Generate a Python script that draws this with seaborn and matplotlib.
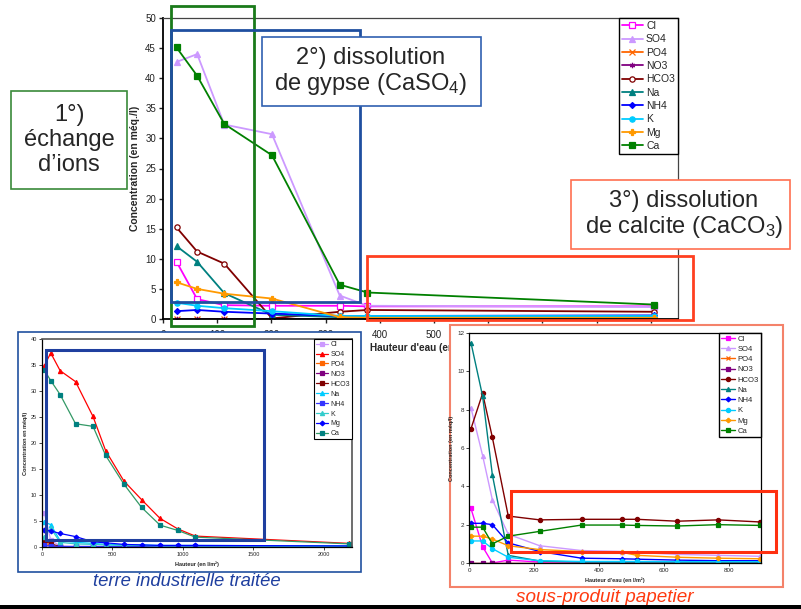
import pandas as pd
import matplotlib
matplotlib.use("Agg")
import matplotlib.pyplot as plt
from matplotlib.patches import Rectangle
import seaborn as sns

W, H = 801, 609

IONS = ["Cl", "SO4", "PO4", "NO3", "HCO3", "Na", "NH4", "K", "Mg", "Ca"]

# graphique principal
main_x = [25, 63, 113, 201, 326, 377, 906]
main_cl = [9.5, 3.3, 2.3, 2.2, 2.2, 2.1, 2.1]
main_so4 = [42.7, 44.0, 32.3, 30.7, 3.9, 2.2, 2.0]
main_po4 = [0.0, 0.0, 0.0, 0.0, 0.0, 0.0, 0.0]
main_no3 = [0.0, 0.0, 0.0, 0.0, 0.0, 0.0, 0.0]
main_hco3 = [15.2, 11.2, 9.2, 0.1, 1.2, 1.5, 1.2]
main_na = [12.1, 9.5, 4.3, 0.7, 0.3, 0.3, 0.3]
main_nh4 = [1.3, 1.5, 1.2, 0.9, 0.5, 0.5, 0.6]
main_k = [2.7, 2.2, 1.8, 1.3, 0.5, 0.5, 0.5]
main_mg = [6.1, 5.0, 4.2, 3.4, 0.3, 0.2, 0.2]
main_ca = [45.1, 40.4, 32.4, 27.2, 5.7, 4.4, 2.4]

# terre industrielle traitée
terre_x = [17, 62, 129, 238, 362, 452, 581, 707, 838, 962, 1088, 2180]
terre_cl = [6.6, 1.3, 0.2, 0.1, 0.1, 0.1, 0.1, 0.1, 0.1, 0.1, 0.1, 0.1]
terre_so4 = [34.9, 37.3, 33.9, 31.8, 25.1, 18.5, 12.7, 9.1, 5.5, 3.5, 2.1, 0.7]
terre_po4 = [0.9, 0.2, 0.0, 0.0, 0.0, 0.0, 0.0, 0.0, 0.0, 0.0, 0.0, 0.0]
terre_no3 = [0.0, 0.0, 0.0, 0.0, 0.0, 0.0, 0.0, 0.0, 0.0, 0.0, 0.0, 0.0]
terre_hco3 = [1.2, 0.6, 0.1, 0.0, 0.0, 0.0, 0.0, 0.0, 0.0, 0.0, 0.0, 0.0]
terre_na = [4.8, 4.3, 1.2, 0.9, 0.7, 0.5, 0.4, 0.4, 0.3, 0.3, 0.3, 0.2]
terre_nh4 = [0.3, 0.2, 0.1, 0.1, 0.1, 0.1, 0.1, 0.1, 0.1, 0.1, 0.1, 0.1]
terre_k = [2.0, 3.6, 0.9, 0.6, 0.5, 0.4, 0.3, 0.3, 0.2, 0.2, 0.2, 0.1]
terre_mg = [3.3, 3.1, 2.6, 2.0, 1.0, 0.8, 0.5, 0.4, 0.3, 0.3, 0.3, 0.2]
terre_ca = [34.0, 32.0, 29.3, 23.7, 23.2, 17.6, 12.1, 7.6, 4.2, 3.2, 1.9, 0.6]

# sous-produit papetier
papet_x = [6, 42, 72, 121, 218, 347, 473, 518, 642, 768, 898]
papet_cl = [2.85, 0.85, 0.0, 0.15, 0.05, 0.05, 0.05, 0.05, 0.05, 0.05, 0.05]
papet_so4 = [8.1, 5.6, 3.3, 1.5, 0.9, 0.65, 0.6, 0.55, 0.45, 0.4, 0.35]
papet_po4 = [0.0, 0.0, 0.0, 0.0, 0.0, 0.0, 0.0, 0.0, 0.0, 0.0, 0.0]
papet_no3 = [0.0, 0.0, 0.0, 0.0, 0.0, 0.0, 0.0, 0.0, 0.0, 0.0, 0.0]
papet_hco3 = [7.0, 8.85, 6.55, 2.45, 2.25, 2.28, 2.28, 2.28, 2.18, 2.25, 2.14]
papet_na = [11.5, 8.7, 4.6, 0.4, 0.1, 0.05, 0.05, 0.05, 0.05, 0.05, 0.05]
papet_nh4 = [2.07, 2.07, 2.0, 1.05, 0.6, 0.25, 0.22, 0.2, 0.15, 0.12, 0.12]
papet_k = [1.15, 1.15, 0.75, 0.3, 0.12, 0.08, 0.08, 0.08, 0.07, 0.07, 0.07]
papet_mg = [1.4, 1.4, 1.25, 0.9, 0.7, 0.6, 0.55, 0.4, 0.3, 0.25, 0.22]
papet_ca = [1.87, 1.87, 1.0, 1.4, 1.65, 1.98, 1.98, 1.96, 1.93, 2.0, 1.96]

ASTER = (6, 2, 0)

# couleur, marqueur, remplissage
main_styles = {
    "Cl": ("#FF00FF", "s", "white"), "SO4": ("#CC99FF", "^", None),
    "PO4": ("#FF6600", "x", None), "NO3": ("#800080", ASTER, None),
    "HCO3": ("#800000", "o", "white"), "Na": ("#008080", "^", None),
    "NH4": ("#0000FF", "D", None), "K": ("#00CCFF", "o", None),
    "Mg": ("#FF9900", "P", None), "Ca": ("#008000", "s", None),
}
terre_styles = {
    "Cl": ("#CC99FF", "s", None), "SO4": ("#FF0000", "^", None),
    "PO4": ("#FF6600", "s", None), "NO3": ("#800080", "s", None),
    "HCO3": ("#800000", "s", None), "Na": ("#00CCFF", "^", None),
    "NH4": ("#3333FF", "s", None), "K": ("#33CCCC", "^", None),
    "Mg": ("#0000FF", "D", None), "Ca": ("#339966", "s", None),
}
papet_styles = {
    "Cl": ("#FF00FF", "s", None), "SO4": ("#CC99FF", "^", None),
    "PO4": ("#FF6600", "x", None), "NO3": ("#800080", "s", None),
    "HCO3": ("#800000", "o", None), "Na": ("#008080", "^", None),
    "NH4": ("#0000FF", "D", None), "K": ("#00CCFF", "o", None),
    "Mg": ("#FF9900", "P", None), "Ca": ("#008000", "s", None),
}


def frac(x0, y0, x1, y1):
    return [x0 / W, 1 - y1 / H, (x1 - x0) / W, (y1 - y0) / H]


def fig_rect(fig, x0, y0, x1, y1, ec, lw, z, fc="none"):
    fig.add_artist(Rectangle((x0 / W, 1 - y1 / H), (x1 - x0) / W, (y1 - y0) / H,
                             transform=fig.transFigure, facecolor=fc,
                             edgecolor=ec, linewidth=lw, zorder=z))


def draw_panel(ax, xs, series, styles, lw, ms, mk_edge=None):
    df = pd.DataFrame({"x": xs * len(IONS),
                       "val": [v for s in series for v in s],
                       "ion": [ion for ion in IONS for _ in xs]})
    for ion in IONS:
        col, mk, mfc = styles[ion]
        mec = col
        if ion == "Ca" and mk_edge is not None:
            mec = mk_edge
        size = ms * 0.8 if mk == "D" else ms
        sns.lineplot(data=df[df["ion"] == ion], x="x", y="val", ax=ax,
                     color=col, linewidth=lw, marker=mk, markersize=size,
                     markerfacecolor=mfc if mfc else mec,
                     markeredgecolor=mec, markeredgewidth=0.9,
                     label=ion, legend=False)


sns.set_theme(style="white")
plt.rcParams["font.family"] = ["Liberation Sans", "DejaVu Sans"]
plt.rcParams["mathtext.fontset"] = "custom"
plt.rcParams["mathtext.rm"] = "Liberation Sans"
plt.rcParams["mathtext.it"] = "Liberation Sans:italic"

fig = plt.figure(figsize=(8.01, 6.09), dpi=100)

# ---- graphique principal
ax = fig.add_axes(frac(163, 18, 678, 319))
ax.set_zorder(0)
draw_panel(ax, main_x,
           [main_cl, main_so4, main_po4, main_no3, main_hco3, main_na,
            main_nh4, main_k, main_mg, main_ca],
           main_styles, 1.3, 3.8)
ax.set_xlim(0, 950)
ax.set_ylim(0, 50)
ax.set_xticks(range(0, 1000, 100))
ax.set_yticks(range(0, 55, 5))
ax.tick_params(axis="both", direction="out", length=3, width=1,
               labelsize=7, colors="#222222", left=True, bottom=True, pad=2)
ax.tick_params(axis="x", pad=5)
for s in ["left", "bottom"]:
    ax.spines[s].set_color("black")
    ax.spines[s].set_linewidth(1.3)
for s in ["top", "right"]:
    ax.spines[s].set_color("#444444")
    ax.spines[s].set_linewidth(0.9)
ax.set_ylabel("Concentration (en méq./l)", fontsize=7.5, fontweight="bold", labelpad=4)
ax.set_xlabel("Hauteur d'eau (en l/m²)", fontsize=7.2, fontweight="bold", loc="left")
ax.xaxis.set_label_coords((370 - 163) / 515, -0.08)
leg = ax.legend(loc="upper right", borderaxespad=0, fontsize=7.5, frameon=True,
                fancybox=False, framealpha=1, edgecolor="black",
                handlelength=2.0, handletextpad=0.3, labelspacing=0.32,
                borderpad=0.3)
leg.get_frame().set_linewidth(1)

# cadres d'annotation du graphique principal
fig_rect(fig, 171, 6, 254, 326, "#1A7A1A", 2, 1)
fig_rect(fig, 171, 30, 360, 302, "#1F4FA0", 2, 1)
fig_rect(fig, 367, 256, 693, 320, "#FF4020", 2, 1)

fig_rect(fig, 11, 91, 127, 189, "#3A8A3A", 1.2, 2, fc="white")
fig.text(69 / W, 1 - 140 / H, "1°)\néchange\nd’ions", ha="center", va="center",
         fontsize=17, linespacing=1.15, zorder=2.1)
fig_rect(fig, 262, 37, 481, 106, "#3060B0", 1.2, 2, fc="white")
fig.text(371 / W, 1 - 72 / H, "2°) dissolution\nde gypse (CaSO$_4$)", ha="center",
         va="center", fontsize=17, linespacing=1.15, zorder=2.1)
fig_rect(fig, 571, 180, 790, 249, "#FF7050", 1.2, 2, fc="white")
fig.text(684 / W, 1 - 215 / H, "3°) dissolution\nde calcite (CaCO$_3$)", ha="center",
         va="center", fontsize=17, linespacing=1.15, zorder=2.1)

# ---- terre industrielle traitée
fig_rect(fig, 18, 332, 361, 572, "#2050A0", 1.2, 3, fc="white")
ax2 = fig.add_axes(frac(42, 339, 352, 547))
ax2.set_zorder(4)
ax2.patch.set_alpha(0)
draw_panel(ax2, terre_x,
           [terre_cl, terre_so4, terre_po4, terre_no3, terre_hco3, terre_na,
            terre_nh4, terre_k, terre_mg, terre_ca],
           terre_styles, 0.9, 3, mk_edge="#008080")
ax2.set_xlim(0, 2200)
ax2.set_ylim(0, 40)
ax2.set_xticks(range(0, 2500, 500))
ax2.set_yticks(range(0, 45, 5))
ax2.tick_params(axis="both", direction="out", length=2, width=0.6,
                labelsize=4, left=True, bottom=True, pad=1.5)
for s in ["left", "bottom"]:
    ax2.spines[s].set_color("black")
    ax2.spines[s].set_linewidth(0.9)
for s in ["top", "right"]:
    ax2.spines[s].set_color("#555555")
    ax2.spines[s].set_linewidth(1.2)
ax2.set_ylabel("Concentration en méq/l)", fontsize=4, fontweight="bold", labelpad=2)
ax2.set_xlabel("Hauteur (en l/m²)", fontsize=4, fontweight="bold", labelpad=3)
leg2 = ax2.legend(loc="upper right", borderaxespad=0, fontsize=5, frameon=True,
                  fancybox=False, framealpha=1, edgecolor="black",
                  handlelength=1.8, handletextpad=0.3, labelspacing=0.42,
                  borderpad=0.3)
leg2.get_frame().set_linewidth(0.8)
fig_rect(fig, 46, 350, 264, 540, "#1F3F9F", 2.2, 5)
fig.text(187 / W, 1 - 582 / H, "terre industrielle traitée", ha="center",
         va="center", fontsize=13.3, style="italic", color="#1F3F9F", zorder=5)

# ---- sous-produit papetier
fig_rect(fig, 450, 325, 783, 587, "#F4826A", 1.5, 3, fc="white")
ax3 = fig.add_axes(frac(469, 333, 761, 563))
ax3.set_zorder(4)
ax3.patch.set_alpha(0)
draw_panel(ax3, papet_x,
           [papet_cl, papet_so4, papet_po4, papet_no3, papet_hco3, papet_na,
            papet_nh4, papet_k, papet_mg, papet_ca],
           papet_styles, 1.0, 3)
ax3.set_xlim(0, 900)
ax3.set_ylim(0, 12)
ax3.set_xticks(range(0, 1000, 200))
ax3.set_yticks(range(0, 14, 2))
ax3.tick_params(axis="both", direction="out", length=2, width=0.6,
                labelsize=4.5, left=True, bottom=True, pad=1.5)
for s in ax3.spines.values():
    s.set_color("black")
    s.set_linewidth(0.9)
ax3.set_ylabel("Concentration (en méq/l)", fontsize=4, fontweight="bold", labelpad=2)
ax3.set_xlabel("Hauteur d'eau (en l/m²)", fontsize=4, fontweight="bold", labelpad=3)
leg3 = ax3.legend(loc="upper right", borderaxespad=0, fontsize=5.5, frameon=True,
                  fancybox=False, framealpha=1, edgecolor="black",
                  handlelength=1.8, handletextpad=0.3, labelspacing=0.38,
                  borderpad=0.3)
leg3.get_frame().set_linewidth(1)
fig_rect(fig, 511, 491, 776, 552, "#FF3010", 2.2, 5)
fig.text(605 / W, 1 - 598 / H, "sous-produit papetier", ha="center",
         va="center", fontsize=13.6, style="italic", color="#FF3A10", zorder=5)

# bande noire en bas
fig_rect(fig, 0, 605, W, H, "black", 0, 6, fc="black")

fig.savefig("out.png", dpi=100)
